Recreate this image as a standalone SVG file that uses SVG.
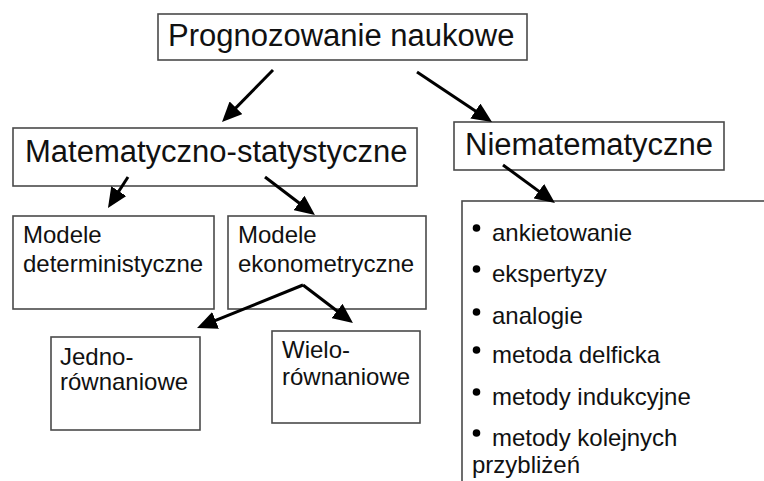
<svg xmlns="http://www.w3.org/2000/svg" width="764" height="481" viewBox="0 0 764 481">
  <defs>
    <style>
      .box { fill: #ffffff; stroke: #4a4a4a; stroke-width: 1.6; }
      .t { font-family: "Liberation Sans", Arial, sans-serif; fill: #111111; }
      .big { font-size: 31px; }
      .mid { font-size: 24px; }
      .edge { fill: none; stroke: #000000; stroke-width: 3; marker-end: url(#head); }
      .dot { fill: #000000; }
    </style>
    <marker id="head" viewBox="0 0 20 18" refX="10" refY="9" markerWidth="20" markerHeight="18" markerUnits="userSpaceOnUse" orient="auto">
      <path d="M0,0 L20,9 L0,18 Z" fill="#000000"/>
    </marker>
  </defs>
  <rect width="764" height="481" fill="#ffffff"/>

  <g id="prognozowanie">
    <rect class="box" x="158" y="14" width="369" height="46"/>
    <text class="t big" x="168" y="46">Prognozowanie naukowe</text>
  </g>

  <g id="matematyczno-statystyczne">
    <rect class="box" x="13" y="128" width="404" height="58"/>
    <text class="t big" x="25" y="162">Matematyczno-statystyczne</text>
  </g>

  <g id="niematematyczne">
    <rect class="box" x="454" y="122" width="270" height="48"/>
    <text class="t big" x="465" y="155">Niematematyczne</text>
  </g>

  <g id="modele-deterministyczne">
    <rect class="box" x="13" y="216" width="201" height="93"/>
    <text class="t mid" x="23" y="243">Modele</text>
    <text class="t mid" x="23" y="272">deterministyczne</text>
  </g>

  <g id="modele-ekonometryczne">
    <rect class="box" x="228" y="216" width="198" height="93"/>
    <text class="t mid" x="238" y="243">Modele</text>
    <text class="t mid" x="238" y="272">ekonometryczne</text>
  </g>

  <g id="jednorownaniowe">
    <rect class="box" x="51" y="337" width="149" height="93"/>
    <text class="t mid" x="60" y="365">Jedno-</text>
    <text class="t mid" x="60" y="390">równaniowe</text>
  </g>

  <g id="wielorownaniowe">
    <rect class="box" x="272" y="331" width="148" height="92"/>
    <text class="t mid" x="282" y="358">Wielo-</text>
    <text class="t mid" x="282" y="385">równaniowe</text>
  </g>

  <g id="metody-niematematyczne">
    <rect class="box" x="462" y="201" width="320" height="300"/>
    <circle class="dot" cx="476.5" cy="228" r="3.8"/>
    <text class="t mid" x="492" y="241">ankietowanie</text>
    <circle class="dot" cx="476.5" cy="269" r="3.8"/>
    <text class="t mid" x="492" y="282">ekspertyzy</text>
    <circle class="dot" cx="476.5" cy="312" r="3.8"/>
    <text class="t mid" x="492" y="324">analogie</text>
    <circle class="dot" cx="476.5" cy="350" r="3.8"/>
    <text class="t mid" x="492" y="363">metoda delficka</text>
    <circle class="dot" cx="476.5" cy="392" r="3.8"/>
    <text class="t mid" x="492" y="405">metody indukcyjne</text>
    <circle class="dot" cx="476.5" cy="433" r="3.8"/>
    <text class="t mid" x="492" y="446">metody kolejnych</text>
    <text class="t mid" x="472" y="473">przybliżeń</text>
  </g>

  <g id="connectors">
    <line class="edge" x1="273" y1="70" x2="229" y2="114.9"/>
    <line class="edge" x1="417" y1="72" x2="483.7" y2="116.5"/>
    <line class="edge" x1="128" y1="177" x2="113.4" y2="199.6"/>
    <line class="edge" x1="265" y1="177" x2="307" y2="209"/>
    <line class="edge" x1="503" y1="165" x2="546.9" y2="197.1"/>
    <line class="edge" x1="303" y1="285" x2="206.3" y2="324.2"/>
    <line class="edge" x1="303" y1="285" x2="345" y2="317"/>
  </g>
</svg>
